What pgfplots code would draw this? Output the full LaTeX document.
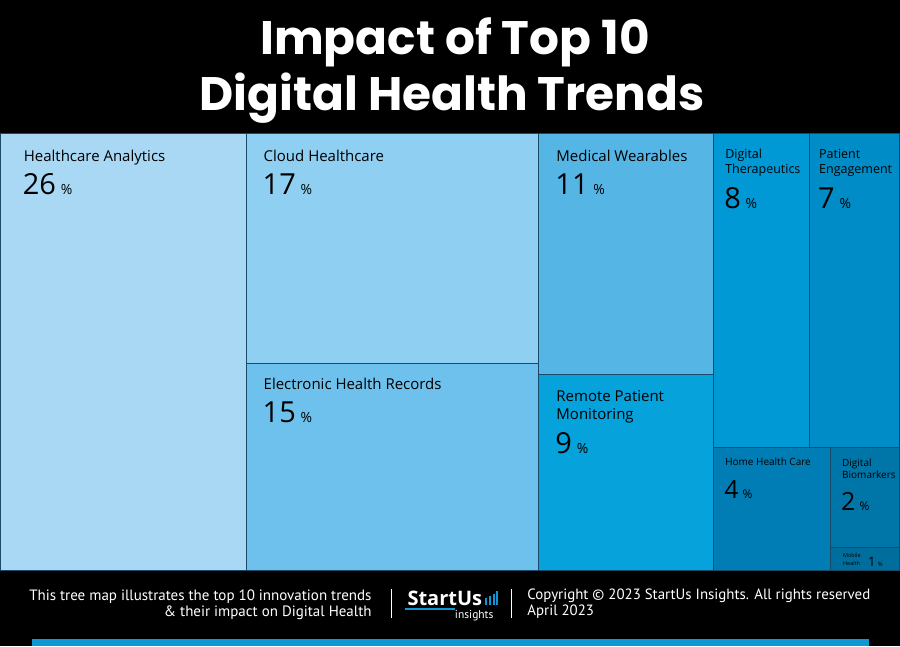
\documentclass[border=0pt]{standalone}
\usepackage{pgfplots}
\pgfplotsset{compat=1.18}
\usepackage{fontspec}
\setmainfont{Open Sans}
\newfontfamily\titlefont{Poppins}
\newfontfamily\footfont{PT Sans}
\definecolor{c1}{HTML}{A9D8F5}
\definecolor{c2}{HTML}{8ECFF2}
\definecolor{c3}{HTML}{6EC1EC}
\definecolor{c4}{HTML}{55B5E5}
\definecolor{c5}{HTML}{06A2DC}
\definecolor{c6}{HTML}{0099D6}
\definecolor{c7}{HTML}{008CC7}
\definecolor{c8}{HTML}{007DB5}
\definecolor{c9}{HTML}{0075A8}
\definecolor{c10}{HTML}{006E9D}
\definecolor{edge}{HTML}{1B4A68}
\definecolor{txt}{HTML}{141414}
\definecolor{brand}{HTML}{0E97D5}
\newcommand{\fs}[1]{\fontsize{#1bp}{#1bp}\selectfont}
\begin{document}
\begin{tikzpicture}
\begin{axis}[
  width=900bp, height=647bp, scale only axis,
  xmin=0, xmax=900, ymin=0, ymax=647, y dir=reverse,
  axis lines=none, ticks=none, clip=false,
  every node/.style={inner sep=0pt, outer sep=0pt, text=txt},
]
% background
\addplot[fill=black, draw=none] coordinates {(0,0) (900,0) (900,647) (0,647)} -- cycle;
% treemap tiles
\addplot[fill=c1, draw=edge, line width=0.8bp] coordinates {(0,134) (246,134) (246,571) (0,571)} -- cycle;
\addplot[fill=c2, draw=edge, line width=0.8bp] coordinates {(246,134) (538,134) (538,364) (246,364)} -- cycle;
\addplot[fill=c3, draw=edge, line width=0.8bp] coordinates {(246,364) (538,364) (538,571) (246,571)} -- cycle;
\addplot[fill=c4, draw=edge, line width=0.8bp] coordinates {(538,134) (714,134) (714,375) (538,375)} -- cycle;
\addplot[fill=c5, draw=edge, line width=0.8bp] coordinates {(538,375) (714,375) (714,571) (538,571)} -- cycle;
\addplot[fill=c6, draw=edge, line width=0.8bp] coordinates {(714,134) (810,134) (810,448) (714,448)} -- cycle;
\addplot[fill=c7, draw=edge, line width=0.8bp] coordinates {(810,134) (900,134) (900,448) (810,448)} -- cycle;
\addplot[fill=c8, draw=edge, line width=0.8bp] coordinates {(714,448) (831,448) (831,571) (714,571)} -- cycle;
\addplot[fill=c9, draw=edge, line width=0.8bp] coordinates {(831,448) (900,448) (900,548) (831,548)} -- cycle;
\addplot[fill=c10, draw=edge, line width=0.8bp] coordinates {(831,548) (900,548) (900,571) (831,571)} -- cycle;
% bottom bar
\addplot[fill=brand, draw=none] coordinates {(32,640) (869,640) (869,647) (32,647)} -- cycle;

% title
\node[text=white, align=center, anchor=base] at (axis cs:455,55) {\titlefont\bfseries\fs{47}Impact of Top 10};
\node[text=white, align=center, anchor=base] at (axis cs:452,111) {\titlefont\bfseries\fs{47}Digital Health Trends};

% labels
\node[anchor=base west] at (axis cs:20,162) {\fs{15}Healthcare Analytics};
\node[anchor=base west] at (axis cs:19,195) {\fs{29}26\,\fs{14}\%};
\node[anchor=base west] at (axis cs:260,162) {\fs{15}Cloud Healthcare};
\node[anchor=base west] at (axis cs:259,195) {\fs{29}17\,\fs{14}\%};
\node[anchor=base west] at (axis cs:260,390) {\fs{15}Electronic Health Records};
\node[anchor=base west] at (axis cs:259,423) {\fs{29}15\,\fs{14}\%};
\node[anchor=base west] at (axis cs:553,162) {\fs{15}Medical Wearables};
\node[anchor=base west] at (axis cs:552,195) {\fs{29}11\,\fs{14}\%};
\node[anchor=base west] at (axis cs:553,402) {\fs{15}Remote Patient};
\node[anchor=base west] at (axis cs:553,420) {\fs{15}Monitoring};
\node[anchor=base west] at (axis cs:552,454) {\fs{29}9\,\fs{14}\%};
\node[anchor=base west] at (axis cs:722,159) {\fs{12.5}Digital};
\node[anchor=base west] at (axis cs:722,174) {\fs{12.5}Therapeutics};
\node[anchor=base west] at (axis cs:721,209) {\fs{29}8\,\fs{14}\%};
\node[anchor=base west] at (axis cs:816,159) {\fs{12.5}Patient};
\node[anchor=base west] at (axis cs:816,174) {\fs{12.5}Engagement};
\node[anchor=base west] at (axis cs:815,209) {\fs{29}7\,\fs{14}\%};
\node[anchor=base west] at (axis cs:722,466) {\fs{10}Home Health Care};
\node[anchor=base west] at (axis cs:721,499) {\fs{25}4\,\fs{12}\%};
\node[anchor=base west] at (axis cs:839,467) {\fs{10}Digital};
\node[anchor=base west] at (axis cs:839,479) {\fs{10}Biomarkers};
\node[anchor=base west] at (axis cs:838,511) {\fs{25}2\,\fs{12}\%};
\node[anchor=base west] at (axis cs:840,558) {\fs{5.5}Mobile};
\node[anchor=base west] at (axis cs:840,566) {\fs{5.5}Health};
\node[anchor=base west] at (axis cs:865,567) {\fs{13}1\,\fs{6}\%};

% footer
\node[text=white, anchor=base east] at (axis cs:375,601) {\footfont\fs{15.0}This tree map illustrates the top 10 innovation trends};
\node[text=white, anchor=base east] at (axis cs:375,617) {\footfont\fs{15.0}\& their impact on Digital Health};
\draw[white, line width=0.6bp] (axis cs:391,590) -- (axis cs:391,619);
\draw[white, line width=0.6bp] (axis cs:511,590) -- (axis cs:511,619);
\node[text=white, anchor=base west] at (axis cs:404,606) {\fs{20}\bfseries StartUs};
\fill[brand] (axis cs:405,609) rectangle (axis cs:455,611);
\node[text=white, anchor=base east] at (axis cs:497,619.5) {\footfont\fs{11.5}insights};
\fill[brand] (axis cs:485,599) rectangle (axis cs:487,606);
\fill[brand] (axis cs:489,597) rectangle (axis cs:491,606);
\fill[brand] (axis cs:493,595) rectangle (axis cs:495,606);
\fill[brand] (axis cs:496.5,592) rectangle (axis cs:498.5,606);
\node[text=white, anchor=base west] at (axis cs:524,600) {\footfont\fs{14.9}Copyright © 2023 StartUs Insights. All rights reserved};
\node[text=white, anchor=base west] at (axis cs:524,616) {\footfont\fs{14.9}April 2023};
\end{axis}
\end{tikzpicture}
\end{document}
